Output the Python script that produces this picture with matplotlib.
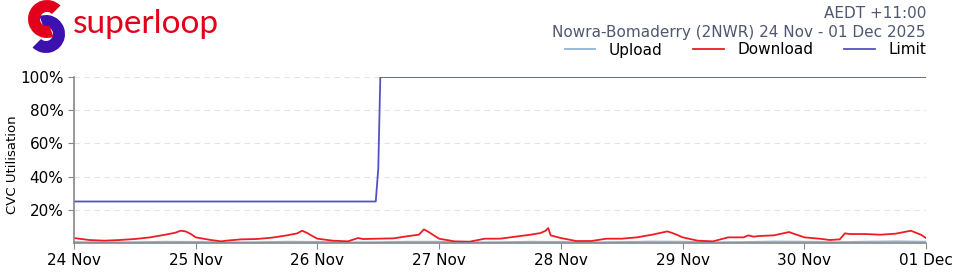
import datetime as dt
import matplotlib
matplotlib.use("Agg")
import matplotlib.pyplot as plt
import matplotlib.dates as mdates
from matplotlib.patches import Wedge
from matplotlib.ticker import FuncFormatter

start = dt.datetime(2025, 11, 24)

# hours since 24 Nov 00:00 and utilisation in %
dl_hours = [0, 3, 6, 9, 12, 15, 18, 20, 21, 22, 23,
            24, 27, 29, 30, 33, 36, 39, 42, 44, 45, 46, 47,
            48, 51, 54, 56, 57, 60, 63, 66, 68, 69, 70, 71,
            72, 75, 78, 81, 84, 87, 90, 92, 93, 93.5, 94, 95,
            96, 99, 102, 105, 108, 111, 114, 117, 118, 119,
            120, 123, 126, 129, 132, 133, 134, 135, 138, 141, 142, 143,
            144, 147, 149, 151, 152, 153, 156, 159, 162, 165, 167, 168]
dl_pct = [3.0, 1.8, 1.4, 1.8, 2.4, 3.4, 5.0, 6.2, 7.4, 7.0, 5.5,
          3.4, 1.8, 1.0, 1.4, 2.2, 2.4, 3.2, 4.6, 5.8, 7.4, 6.0, 4.2,
          2.6, 1.4, 1.0, 3.0, 2.4, 2.6, 2.8, 4.2, 5.0, 8.2, 6.5, 4.5,
          2.6, 1.0, 0.8, 2.6, 2.6, 3.8, 5.0, 6.0, 7.4, 9.0, 4.6, 3.8,
          3.0, 1.2, 1.2, 2.6, 2.6, 3.4, 5.0, 7.0, 6.0, 4.8,
          3.4, 1.4, 1.0, 3.4, 3.4, 4.6, 3.8, 4.2, 4.6, 6.6, 5.5, 4.5,
          3.4, 2.6, 1.8, 2.2, 5.8, 5.4, 5.4, 5.0, 5.6, 7.4, 5.0, 3.0]

ul_hours = list(range(0, 169, 6))
ul_pct = [0.6, 0.4, 0.5, 0.8, 0.7, 0.4, 0.5, 0.8, 0.7, 0.4, 0.5, 0.8,
          0.8, 0.4, 0.5, 0.8, 0.7, 0.4, 0.6, 0.9, 0.8, 0.4, 0.6, 0.9,
          0.8, 0.5, 0.8, 1.0, 0.8]

lim_hours = [0, 59.5, 60.0, 60.4, 168]
lim_pct = [25, 25, 45, 100, 100]

to_dt = lambda hs: [start + dt.timedelta(hours=h) for h in hs]

fig = plt.figure(figsize=(9.6, 2.74), dpi=100)
ax = fig.add_axes([74 / 960, 1 - 243 / 274, 852 / 960, 166 / 274])

l1, = ax.plot(to_dt(ul_hours), ul_pct, color="#8fb4dc", lw=1.3, label="Upload")
l2, = ax.plot(to_dt(dl_hours), dl_pct, color="#ee1c25", lw=1.3, label="Download")
l3, = ax.plot(to_dt(lim_hours), lim_pct, color="#5252c4", lw=1.3, label="Limit")

ax.set_xlim(start, start + dt.timedelta(days=7))
ax.set_ylim(0, 100)
ax.set_yticks([20, 40, 60, 80, 100])
ax.yaxis.set_major_formatter(FuncFormatter(lambda v, p: f"{v:.0f}%"))
ax.xaxis.set_major_locator(mdates.DayLocator())
ax.xaxis.set_major_formatter(mdates.DateFormatter("%d %b"))
ax.tick_params(labelsize=11, length=4, color="#888888")
ax.grid(axis="y", ls=(0, (5, 4)), color="#e3e3e3", lw=0.8)
for s in ("top", "right"):
    ax.spines[s].set_visible(False)
for s in ("left", "bottom"):
    ax.spines[s].set_color("#888888")
    ax.spines[s].set_linewidth(1.2)
fig.text(13 / 960, 1 - 165 / 274, "CVC Utilisation", rotation=90,
         ha="center", va="center", fontsize=9.5)

fig.text(926 / 960, 1 - 14 / 274, "AEDT +11:00", ha="right", va="center",
         fontsize=11, color="#4e5870")
fig.text(926 / 960, 1 - 32 / 274, "Nowra-Bomaderry (2NWR) 24 Nov - 01 Dec 2025",
         ha="right", va="center", fontsize=11, color="#4e5870")
fig.legend(handles=[l1, l2, l3], ncol=3, frameon=False, fontsize=11,
           loc="center right", bbox_to_anchor=(940 / 960, 1 - 50 / 274),
           handlelength=2.0, columnspacing=2.0, handletextpad=0.9)

# logo, drawn in pixel units with y pointing up
lax = fig.add_axes([18 / 960, 1 - 56 / 274, 56 / 960, 56 / 274])
lax.set_xlim(18, 74)
lax.set_ylim(0, 56)
lax.set_aspect("equal")
lax.axis("off")
lax.add_patch(Wedge((46, 22), 19, -135, 110, width=12, facecolor="#3d10b0"))
lax.add_patch(Wedge((47, 37), 19, 45, 290, width=12, facecolor="#e3001b"))
fig.text(73 / 960, 1 - 24 / 274, "superloop", ha="left", va="center",
         fontsize=24, color="#e3001b", family="Lato")

fig.savefig("out.png", dpi=100)
